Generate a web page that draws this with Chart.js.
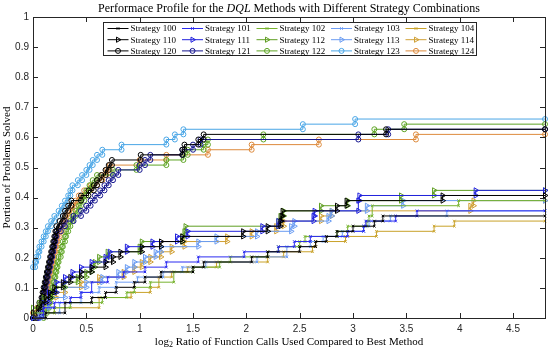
<!DOCTYPE html>
<html>
<head>
<meta charset="utf-8">
<script src="https://cdn.jsdelivr.net/npm/chart.js@4.4.1/dist/chart.umd.min.js"></script>
<style>
  html, body { margin: 0; padding: 0; background: #fff; }
</style>
</head>
<body>
<canvas id="perfChart" width="550" height="351"></canvas>
<script>
// axis ticks
const xMax = 4.8;
const xTicks = [0, 0.5, 1, 1.5, 2, 2.5, 3, 3.5, 4, 4.5];
const yTicks = [0, 0.1, 0.2, 0.3, 0.4, 0.5, 0.6, 0.7, 0.8, 0.9, 1];

// strategy names (legend order, 5 per row)
const strategies = ['Strategy 100', 'Strategy 101', 'Strategy 102', 'Strategy 103', 'Strategy 104',
                    'Strategy 110', 'Strategy 111', 'Strategy 112', 'Strategy 113', 'Strategy 114',
                    'Strategy 120', 'Strategy 121', 'Strategy 122', 'Strategy 123', 'Strategy 124'];

// [log2 ratio, portion solved] at each step of the profile
const s100 = [[0,0],[0.12,0.017],[0.3,0.051],[0.55,0.068],[0.68,0.085],[0.78,0.102],[0.95,0.119],[1.05,0.136],[1.2,0.153],[1.5,0.169],[1.6,0.186],[2.05,0.203],[2.2,0.22],[2.5,0.237],[2.65,0.254],[2.75,0.271],[2.85,0.288],[3.0,0.305],[3.2,0.322],[3.28,0.339]];
const s101 = [[0,0],[0.1,0.034],[0.2,0.051],[0.35,0.068],[0.45,0.085],[0.55,0.119],[0.7,0.136],[0.85,0.153],[1.05,0.169],[1.25,0.186],[1.55,0.203],[1.98,0.22],[2.3,0.237],[2.45,0.254],[2.6,0.271],[2.95,0.288],[3.1,0.305],[3.12,0.322],[3.4,0.339],[3.6,0.356]];
const s102 = [[0,0.017],[0.2,0.034],[0.35,0.051],[0.65,0.068],[0.88,0.085],[0.95,0.102],[1.1,0.119],[1.32,0.153],[1.5,0.169],[1.75,0.186],[1.85,0.203],[2.2,0.22],[2.3,0.237],[2.5,0.254],[2.55,0.271],[2.85,0.288],[2.95,0.305],[3.13,0.322],[3.15,0.339],[3.18,0.373],[3.99,0.39]];
const s103 = [[0,0],[0.05,0.017],[0.25,0.051],[0.45,0.085],[0.62,0.102],[0.78,0.119],[0.98,0.136],[1.22,0.153],[1.4,0.169],[1.62,0.186],[2.1,0.203],[2.38,0.237],[2.6,0.254],[2.72,0.271],[2.9,0.288],[3.1,0.305],[3.15,0.322],[3.35,0.339],[3.88,0.356]];
const s104 = [[0,0],[0.05,0.017],[0.2,0.034],[0.62,0.068],[0.92,0.085],[1.1,0.102],[1.18,0.136],[1.3,0.153],[1.45,0.169],[1.72,0.186],[2.2,0.203],[2.35,0.22],[2.62,0.237],[2.65,0.254],[2.93,0.271],[3.22,0.288],[3.76,0.305],[3.95,0.322]];

const s110 = [[0,0.017],[0.05,0.034],[0.08,0.051],[0.12,0.068],[0.16,0.085],[0.2,0.102],[0.28,0.119],[0.35,0.136],[0.45,0.153],[0.55,0.169],[0.68,0.186],[0.75,0.203],[0.82,0.22],[1.02,0.237],[1.2,0.254],[1.4,0.271],[1.97,0.288],[2.2,0.305],[2.32,0.322],[2.33,0.339],[2.34,0.356],[2.85,0.373],[2.94,0.39],[3.84,0.407]];
const s111 = [[0,0],[0.06,0.017],[0.1,0.051],[0.15,0.085],[0.22,0.119],[0.3,0.136],[0.37,0.153],[0.45,0.169],[0.55,0.186],[0.68,0.203],[0.72,0.22],[0.88,0.237],[1.12,0.254],[1.35,0.271],[1.45,0.288],[2.15,0.305],[2.3,0.322],[2.63,0.339],[2.64,0.356],[3.05,0.39],[3.06,0.407],[4.15,0.424]];
const s112 = [[0,0.034],[0.06,0.051],[0.1,0.068],[0.18,0.085],[0.22,0.102],[0.3,0.119],[0.42,0.136],[0.5,0.153],[0.55,0.169],[0.58,0.186],[0.62,0.203],[0.7,0.22],[1.0,0.237],[1.02,0.254],[1.4,0.271],[1.42,0.288],[1.43,0.305],[2.3,0.322],[2.32,0.339],[2.35,0.356],[2.7,0.373],[2.95,0.39],[3.45,0.407],[3.76,0.424]];
const s113 = [[0,0],[0.08,0.034],[0.15,0.068],[0.3,0.102],[0.5,0.119],[0.65,0.136],[0.8,0.153],[0.88,0.169],[0.95,0.186],[1.05,0.203],[1.15,0.22],[1.2,0.237],[1.55,0.254],[1.72,0.271],[2.1,0.288],[2.42,0.305],[2.45,0.322],[2.77,0.339],[2.8,0.356],[3.13,0.373],[3.47,0.39]];
const s114 = [[0,0.017],[0.04,0.034],[0.1,0.051],[0.15,0.068],[0.22,0.085],[0.3,0.102],[0.45,0.119],[0.62,0.136],[0.85,0.153],[0.95,0.169],[1.02,0.186],[1.1,0.203],[1.2,0.22],[1.3,0.237],[1.42,0.254],[1.82,0.271],[2.05,0.288],[2.28,0.305],[2.35,0.322],[2.7,0.339],[2.8,0.356],[4.1,0.373],[4.13,0.39]];

const s120 = [[0,0],[0.03,0.017],[0.05,0.034],[0.06,0.051],[0.08,0.068],[0.09,0.085],[0.1,0.102],[0.11,0.119],[0.12,0.136],[0.13,0.153],[0.14,0.169],[0.15,0.186],[0.16,0.203],[0.17,0.22],[0.18,0.237],[0.19,0.254],[0.2,0.271],[0.21,0.288],[0.22,0.305],[0.25,0.322],[0.28,0.339],[0.3,0.356],[0.33,0.373],[0.36,0.39],[0.45,0.407],[0.52,0.424],[0.57,0.441],[0.6,0.458],[0.64,0.475],[0.68,0.492],[0.71,0.508],[0.74,0.525],[1.01,0.542],[1.4,0.559],[1.42,0.576],[1.55,0.593],[1.6,0.61],[3.31,0.627]];
const s121 = [[0,0],[0.05,0.017],[0.07,0.034],[0.08,0.051],[0.09,0.068],[0.1,0.085],[0.11,0.102],[0.12,0.119],[0.13,0.136],[0.14,0.153],[0.15,0.169],[0.16,0.186],[0.17,0.203],[0.18,0.22],[0.19,0.237],[0.2,0.254],[0.21,0.271],[0.22,0.288],[0.26,0.305],[0.3,0.322],[0.38,0.339],[0.45,0.356],[0.5,0.373],[0.54,0.39],[0.58,0.407],[0.63,0.424],[0.67,0.441],[0.71,0.458],[0.75,0.475],[0.8,0.492],[1.0,0.508],[1.05,0.525],[1.1,0.542],[1.4,0.559],[1.5,0.576],[1.57,0.593],[3.05,0.61],[3.33,0.627]];
const s122 = [[0,0],[0.1,0.017],[0.13,0.034],[0.15,0.051],[0.16,0.068],[0.17,0.085],[0.18,0.102],[0.19,0.119],[0.2,0.136],[0.21,0.153],[0.22,0.169],[0.23,0.186],[0.24,0.203],[0.26,0.22],[0.27,0.237],[0.28,0.254],[0.3,0.271],[0.31,0.288],[0.33,0.305],[0.35,0.322],[0.37,0.339],[0.4,0.356],[0.43,0.373],[0.45,0.39],[0.48,0.407],[0.5,0.424],[0.53,0.441],[0.56,0.458],[0.6,0.475],[0.75,0.492],[0.97,0.508],[1.25,0.525],[1.41,0.542],[1.45,0.559],[1.6,0.576],[1.64,0.593],[2.16,0.61],[3.2,0.627],[3.48,0.644]];
const s123 = [[0,0.169],[0.02,0.186],[0.03,0.203],[0.05,0.22],[0.06,0.237],[0.08,0.254],[0.1,0.271],[0.12,0.288],[0.14,0.305],[0.17,0.322],[0.2,0.339],[0.24,0.356],[0.27,0.373],[0.3,0.39],[0.33,0.407],[0.35,0.424],[0.37,0.441],[0.42,0.458],[0.46,0.475],[0.5,0.492],[0.53,0.508],[0.56,0.525],[0.6,0.542],[0.65,0.559],[0.83,0.576],[1.25,0.593],[1.33,0.61],[1.41,0.627],[2.53,0.644],[3.02,0.661]];
const s124 = [[0,0.017],[0.05,0.034],[0.08,0.051],[0.1,0.068],[0.12,0.085],[0.13,0.102],[0.14,0.119],[0.15,0.136],[0.16,0.153],[0.17,0.169],[0.18,0.186],[0.19,0.203],[0.2,0.22],[0.21,0.237],[0.22,0.254],[0.23,0.271],[0.25,0.288],[0.27,0.305],[0.29,0.322],[0.31,0.339],[0.34,0.356],[0.37,0.373],[0.4,0.39],[0.43,0.407],[0.48,0.424],[0.54,0.441],[0.6,0.458],[0.65,0.475],[0.69,0.492],[0.72,0.508],[1.0,0.525],[1.25,0.542],[1.64,0.559],[2.05,0.576],[2.68,0.593],[3.59,0.61]];

const series = [s100, s101, s102, s103, s104, s110, s111, s112, s113, s114, s120, s121, s122, s123, s124];

const colors = ['#000000', '#2b2bf0', '#77b32e', '#6f9ef5', '#c9a229',
                '#000000', '#2222dd', '#5f9e22', '#6a9cf2', '#d0a035',
                '#000000', '#16168f', '#5ea424', '#4aa6e6', '#dd8a3c'];

const serif = '"Liberation Serif", "DejaVu Serif", serif';
const sans = '"Liberation Sans", Arial, sans-serif';
const axisColor = '#262626';

// turn step list into stair vertices (marker at both corners of each riser)
function stairs(steps) {
  const pts = [];
  steps.forEach((p, i) => {
    if (i > 0) pts.push({ x: p[0], y: steps[i - 1][1] });
    pts.push({ x: p[0], y: p[1] });
  });
  pts.push({ x: xMax, y: steps[steps.length - 1][1] });
  return pts;
}

function markerFor(i) {
  const row = Math.floor(i / 5);
  if (row === 0) return { pointStyle: 'crossRot', radius: 1.8, rotation: 0 };
  if (row === 1) return { pointStyle: 'triangle', radius: 3, rotation: 90 };
  return { pointStyle: 'circle', radius: 2.5, rotation: 0 };
}

const datasets = series.map((s, i) => {
  const m = markerFor(i);
  return {
    label: strategies[i],
    data: stairs(s),
    borderColor: colors[i],
    borderWidth: 1,
    pointStyle: m.pointStyle,
    pointRadius: m.radius,
    pointRotation: m.rotation,
    pointBorderColor: colors[i],
    pointBackgroundColor: 'rgba(0,0,0,0)',
    pointBorderWidth: 1,
    tension: 0,
    clip: 5
  };
});

// box, inward ticks, titles
const framePlugin = {
  id: 'frame',
  afterDatasetsDraw(chart) {
    const { ctx, chartArea: a, scales } = chart;
    ctx.save();
    ctx.strokeStyle = axisColor;
    ctx.lineWidth = 1;
    ctx.strokeRect(a.left + 0.5, a.top + 0.5, a.right - a.left, a.bottom - a.top);
    ctx.beginPath();
    xTicks.forEach(v => {
      const px = Math.round(scales.x.getPixelForValue(v)) + 0.5;
      ctx.moveTo(px, a.bottom); ctx.lineTo(px, a.bottom - 5);
      ctx.moveTo(px, a.top); ctx.lineTo(px, a.top + 5);
    });
    yTicks.forEach(v => {
      const py = Math.round(scales.y.getPixelForValue(v)) + 0.5;
      ctx.moveTo(a.left, py); ctx.lineTo(a.left + 5, py);
      ctx.moveTo(a.right, py); ctx.lineTo(a.right - 5, py);
    });
    ctx.stroke();

    const cx = (a.left + a.right) / 2;
    ctx.fillStyle = '#000';
    ctx.textBaseline = 'middle';

    // title with italic DQL
    const parts = [['Performace Profile for the ', ''], ['DQL', 'italic '], [' Methods with Different Strategy Combinations', '']];
    let total = 0;
    parts.forEach(p => { ctx.font = p[1] + '12px ' + serif; total += ctx.measureText(p[0]).width; });
    let x = cx - total / 2;
    ctx.textAlign = 'left';
    parts.forEach(p => {
      ctx.font = p[1] + '12px ' + serif;
      ctx.fillText(p[0], x, 9);
      x += ctx.measureText(p[0]).width;
    });

    // x-axis label with log subscript
    ctx.font = '11px ' + serif;
    const w1 = ctx.measureText('log').width;
    const w3 = ctx.measureText(' Ratio of Function Calls Used Compared to Best Method').width;
    ctx.font = '8px ' + serif;
    const w2 = ctx.measureText('2').width;
    x = cx - (w1 + w2 + w3) / 2;
    const ly = 342;
    ctx.font = '11px ' + serif;
    ctx.fillText('log', x, ly);
    ctx.font = '8px ' + serif;
    ctx.fillText('2', x + w1, ly + 3);
    ctx.font = '11px ' + serif;
    ctx.fillText(' Ratio of Function Calls Used Compared to Best Method', x + w1 + w2, ly);

    // y-axis label
    ctx.save();
    ctx.translate(7, (a.top + a.bottom) / 2);
    ctx.rotate(-Math.PI / 2);
    ctx.textAlign = 'center';
    ctx.fillText('Portion of Problems Solved', 0, 0);
    ctx.restore();
    ctx.restore();
  }
};

// boxed legend inside the axes, 3 rows x 5 columns
const legendPlugin = {
  id: 'boxLegend',
  afterDraw(chart) {
    const { ctx, chartArea: a } = chart;
    const cx = (a.left + a.right) / 2;
    const colW = 74.5, boxW = 373, boxH = 33;
    const left = cx - boxW / 2, top = a.top + 5;
    ctx.save();
    ctx.fillStyle = '#fff';
    ctx.fillRect(left, top, boxW, boxH);
    ctx.strokeStyle = axisColor;
    ctx.lineWidth = 1;
    ctx.strokeRect(Math.round(left) + 0.5, top + 0.5, boxW, boxH);
    ctx.font = '9px ' + serif;
    ctx.textBaseline = 'middle';
    ctx.textAlign = 'left';
    chart.data.datasets.forEach((ds, i) => {
      const r = Math.floor(i / 5), c = i % 5;
      const x0 = left + 5 + c * colW;
      const y0 = top + 6.5 + r * 11.2;
      ctx.strokeStyle = ds.borderColor;
      ctx.lineWidth = 1;
      ctx.beginPath();
      ctx.moveTo(x0, y0); ctx.lineTo(x0 + 21, y0);
      ctx.stroke();
      ctx.fillStyle = 'rgba(0,0,0,0)';
      Chart.helpers.drawPoint(ctx, {
        pointStyle: ds.pointStyle, rotation: ds.pointRotation,
        radius: ds.pointRadius, borderWidth: 1
      }, x0 + 10.5, y0);
      ctx.fillStyle = '#000';
      ctx.fillText(ds.label, x0 + 23, y0 + 0.5);
    });
    ctx.restore();
  }
};

const chart = new Chart(document.getElementById('perfChart'), {
  type: 'line',
  data: { datasets },
  options: {
    responsive: false,
    animation: false,
    devicePixelRatio: 1,
    layout: { padding: { top: 17, right: 5, left: 0, bottom: 0 } },
    plugins: {
      legend: { display: false },
      title: { display: false },
      tooltip: { enabled: false }
    },
    scales: {
      x: {
        type: 'linear',
        min: 0,
        max: xMax,
        afterBuildTicks: s => { s.ticks = xTicks.map(v => ({ value: v })); },
        afterFit: s => { s.height = 33; },
        grid: { display: false, drawTicks: false },
        border: { display: false },
        ticks: { autoSkip: false, maxRotation: 0, padding: 5, color: axisColor,
                 font: { family: sans, size: 10 }, callback: v => String(v) }
      },
      y: {
        type: 'linear',
        min: 0,
        max: 1,
        afterBuildTicks: s => { s.ticks = yTicks.map(v => ({ value: v })); },
        afterFit: s => { s.width = 33; },
        grid: { display: false, drawTicks: false },
        border: { display: false },
        ticks: { autoSkip: false, padding: 4, color: axisColor,
                 font: { family: sans, size: 10 }, callback: v => String(v) }
      }
    }
  },
  plugins: [framePlugin, legendPlugin]
});
</script>
</body>
</html>
